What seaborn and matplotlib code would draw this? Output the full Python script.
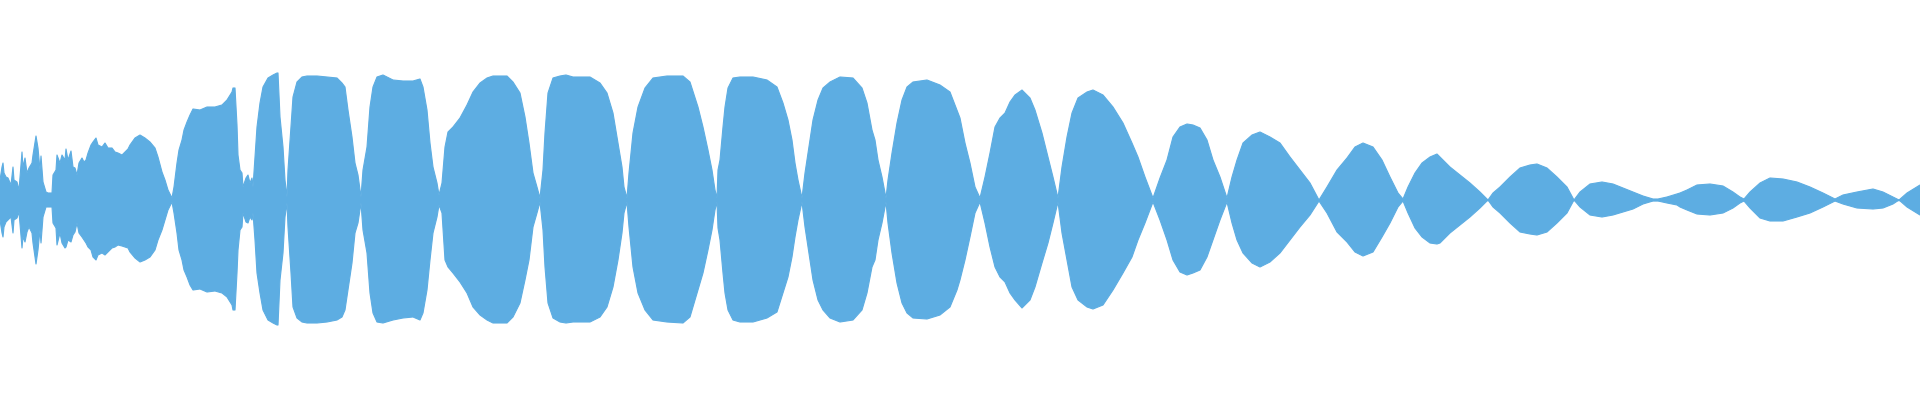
"""
Waveform envelope
"""

import matplotlib
matplotlib.use("Agg")
import matplotlib.pyplot as plt
import seaborn as sns
import pandas as pd

# time position (sample index / px) and peak amplitude above / below the centre line
time = [0, 2, 3, 4, 6, 8, 11, 13, 14, 17, 19, 22, 23, 25, 27, 29, 32, 33, 36, 38,
        40, 41, 43, 46, 48, 52, 53, 56, 57, 60, 62, 65, 66, 68, 71, 73, 75, 77, 79, 82,
        84, 86, 88, 91, 93, 96, 98, 102, 105, 108, 112, 115, 118, 122, 125, 128,
        130, 135, 140, 145, 150, 155, 158, 162, 165, 168, 172, 174, 177, 179, 182, 184, 187, 190, 193,
        200, 207, 215, 222, 227, 232, 233, 235, 237, 238,
        240, 242, 243, 246, 248, 250, 252, 253,
        255, 257, 260, 263, 268, 273, 277, 278, 280, 283, 285, 287, 288, 291,
        293, 297, 302, 307, 317, 327, 337, 342, 345, 348, 352, 355, 358, 361, 363, 367, 370, 373, 377, 383,
        393, 403, 413, 420, 423, 427, 430, 433, 437, 439, 442, 445, 448, 453, 460, 467, 473, 480,
        487, 493, 507, 513, 520, 525, 529, 533, 537, 540, 543, 545, 548, 553, 560, 566, 573, 590, 600, 607,
        613, 618, 622, 624, 627, 629, 633, 638, 645, 653, 667, 683, 690, 698, 703, 708, 712, 715, 717, 718,
        720, 723, 725, 728, 733, 740, 753, 767, 777, 783, 788, 792, 795, 798, 802, 805, 808, 813, 818, 823,
        830, 840, 853, 862, 867, 872, 875, 878, 882, 886, 888, 892, 897, 902, 907, 913, 927, 940, 950, 957,
        960, 965, 970, 975, 980, 985, 990, 995, 1000, 1005, 1010, 1015, 1022, 1030, 1035, 1042, 1048, 1053, 1058, 1062,
        1067, 1072, 1078, 1087, 1093, 1103, 1113, 1123, 1132, 1138, 1145, 1153, 1160, 1167, 1173, 1180, 1187, 1193,
        1200, 1207, 1213, 1220, 1227, 1232, 1237, 1243, 1252, 1260, 1270, 1280, 1290, 1300, 1310, 1319, 1327, 1337, 1347, 1355,
        1363, 1373, 1382, 1390, 1398, 1403, 1408, 1415, 1422, 1430, 1437,
        1440, 1450, 1460, 1470, 1480, 1488, 1493, 1500, 1510, 1520, 1530, 1537, 1547, 1557, 1567, 1574, 1580, 1590, 1602, 1613,
        1623, 1633, 1643, 1653, 1658, 1667, 1677,
        1680, 1687, 1697, 1710, 1723, 1733, 1740, 1744, 1750, 1760, 1770, 1783, 1797, 1810, 1823, 1835, 1843, 1857, 1873, 1883,
        1893, 1899, 1907, 1915, 1920]

upper = [20, 33, 37, 27, 23, 22, 15, 33, 20, 18, 10, 48, 33, 42, 27, 32, 37, 45, 64, 52,
         30, 44, 18, 8, 7, 7, 25, 30, 45, 37, 45, 40, 51, 40, 49, 33, 32, 25, 37, 42,
         38, 40, 47, 55, 58, 62, 55, 53, 57, 52, 52, 48, 47, 45, 48, 51,
         55, 62, 65, 62, 58, 52, 43, 28, 20, 10, 2, 13, 37, 50, 60, 70, 78, 85, 91,
         90, 93, 93, 95, 100, 108, 112, 112, 75, 45,
         30, 27, 13, 22, 25, 17, 22, 13,
         43, 73, 97, 113, 122, 125, 127, 127, 83, 53, 20, 3, 30, 73,
         103, 118, 123, 124, 124, 123, 122, 117, 113, 90, 63, 37, 25, 3, 30, 53, 93, 113, 123, 125,
         120, 119, 119, 121, 113, 90, 57, 33, 17, 5, 17, 53, 68, 73, 82, 95, 108, 117,
         122, 124, 124, 118, 107, 83, 57, 27, 13, 2, 30, 67, 107, 122, 124, 125, 123, 123, 117, 107,
         87, 57, 33, 13, 2, 27, 67, 93, 112, 122, 124, 124, 118, 93, 73, 50, 30, 10, 2, 30,
         40, 73, 93, 112, 122, 123, 123, 120, 113, 97, 80, 60, 37, 20, 2, 27, 47, 80, 100, 112,
         118, 123, 122, 112, 97, 70, 60, 40, 23, 2, 20, 47, 77, 100, 113, 118, 120, 115, 108, 90,
         82, 57, 37, 13, 2, 23, 47, 73, 82, 87, 98, 105, 110, 102, 90, 67, 43, 23, 2, 33,
         63, 87, 102, 108, 110, 105, 93, 77, 57, 43, 23, 2, 22, 40, 63, 73, 76, 75,
         72, 60, 40, 23, 2, 23, 40, 57, 65, 68, 63, 57, 43, 30, 17, 0, 13, 30, 42, 53,
         57, 53, 40, 23, 7, 1, 13, 27, 37, 43, 46,
         43, 33, 25, 17, 8, 0, 7, 13, 23, 32, 35, 36, 32, 23, 13, 0, 8, 16, 18, 16,
         12, 8, 4, 1, 1, 3, 6,
         7, 10, 15, 16, 14, 8, 3, 1, 8, 17, 22, 21, 18, 13, 7, 1, 5, 8, 11, 8,
         3, 0, 7, 12, 15]

lower = [20, 33, 37, 27, 22, 20, 17, 33, 20, 18, 12, 48, 37, 42, 32, 27, 33, 43, 64, 50,
         30, 43, 17, 7, 7, 7, 23, 28, 45, 33, 43, 48, 47, 40, 42, 35, 32, 23, 33, 37,
         40, 43, 47, 50, 57, 60, 55, 53, 55, 52, 48, 47, 45, 46, 47, 48,
         52, 58, 62, 60, 57, 50, 40, 30, 20, 10, 2, 13, 33, 50, 60, 70, 77, 85, 90,
         89, 92, 91, 93, 97, 105, 110, 110, 73, 50,
         30, 27, 13, 22, 23, 17, 20, 13,
         40, 73, 93, 110, 120, 123, 125, 125, 80, 53, 17, 3, 27, 73,
         107, 118, 122, 123, 123, 122, 120, 117, 110, 90, 63, 33, 23, 3, 30, 53, 93, 113, 122, 123,
         120, 118, 117, 120, 113, 90, 60, 33, 17, 5, 13, 60, 67, 73, 82, 93, 107, 115,
         120, 123, 123, 117, 103, 80, 60, 27, 13, 2, 30, 67, 103, 118, 122, 123, 122, 122, 117, 107,
         87, 60, 33, 13, 2, 27, 67, 93, 110, 120, 122, 123, 117, 90, 73, 50, 30, 10, 2, 28,
         40, 73, 93, 110, 120, 122, 122, 118, 112, 93, 77, 57, 37, 20, 2, 27, 47, 80, 100, 110,
         118, 122, 120, 110, 93, 67, 60, 40, 23, 2, 23, 53, 83, 103, 113, 118, 119, 115, 107, 90,
         80, 60, 37, 13, 2, 23, 47, 67, 77, 82, 93, 100, 108, 100, 87, 63, 43, 23, 2, 33,
         60, 87, 100, 107, 109, 105, 90, 73, 57, 40, 23, 2, 20, 40, 60, 72, 75, 73,
         70, 57, 40, 20, 2, 23, 40, 53, 63, 67, 62, 53, 40, 27, 15, 1, 13, 32, 42, 52,
         56, 52, 37, 23, 7, 1, 13, 28, 37, 43, 44,
         43, 33, 25, 17, 8, 0, 7, 13, 23, 32, 34, 35, 32, 23, 13, 0, 7, 15, 17, 15,
         12, 9, 4, 1, 1, 3, 5,
         7, 10, 14, 15, 13, 8, 3, 1, 8, 18, 21, 21, 17, 13, 7, 1, 4, 8, 9, 8,
         4, 0, 7, 12, 15]

WAVE_COLOR = "#5dade2"

df = pd.DataFrame({"time": time, "upper": upper, "lower": [-v for v in lower]})

sns.set_style("white")
plt.rcParams["savefig.bbox"] = "standard"
fig = plt.figure(figsize=(19.2, 4), dpi=100)
ax = fig.add_axes([0, 0, 1, 1])

ax.fill_between(df["time"], df["lower"], df["upper"], color=WAVE_COLOR, linewidth=0)
sns.lineplot(data=df, x="time", y="upper", color=WAVE_COLOR, lw=0.8, ax=ax)
sns.lineplot(data=df, x="time", y="lower", color=WAVE_COLOR, lw=0.8, ax=ax)
ax.axhline(0, color=WAVE_COLOR, lw=1)

ax.set_xlim(0, 1920)
ax.set_ylim(-200, 200)
ax.set_axis_off()

fig.savefig("out.png", dpi=100)
